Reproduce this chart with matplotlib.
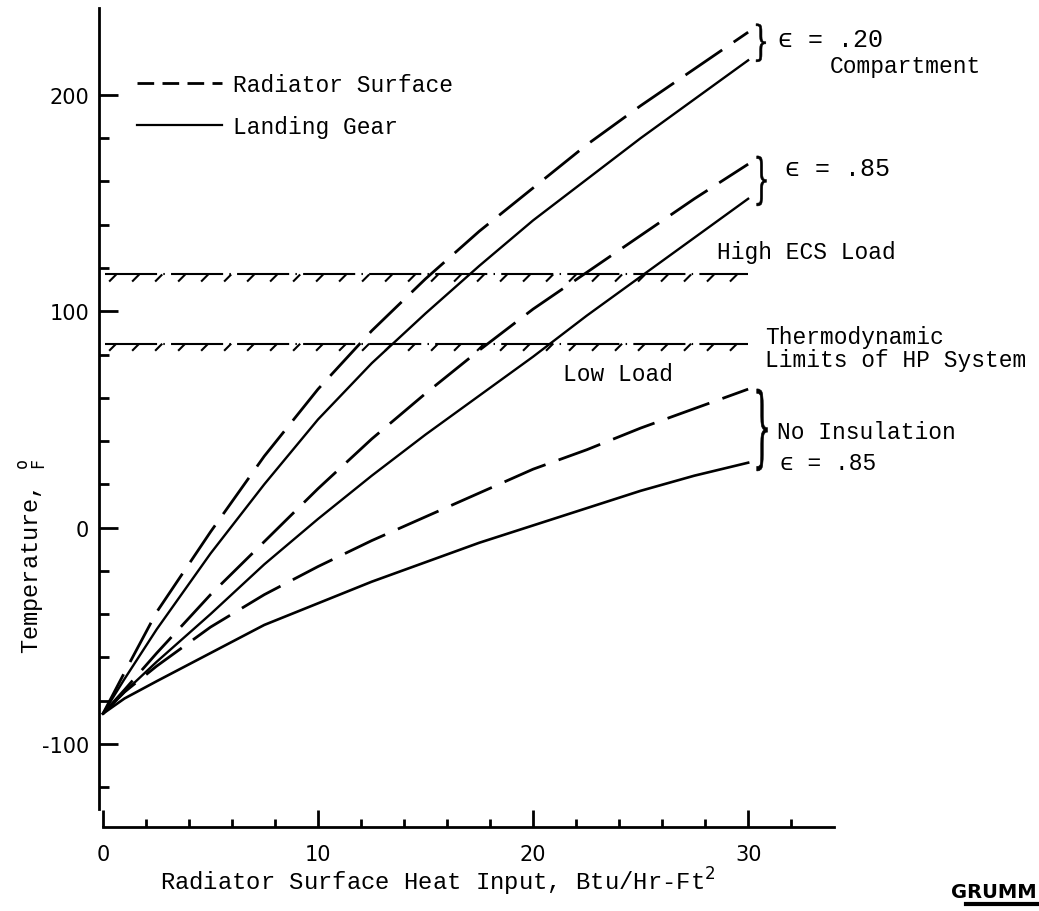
import numpy as np
import matplotlib
matplotlib.use("Agg")
import matplotlib.pyplot as plt
import matplotlib.patheffects as pe
from matplotlib.lines import Line2D
from matplotlib.textpath import TextPath
from matplotlib.patches import PathPatch
from matplotlib.font_manager import FontProperties
from matplotlib.transforms import Affine2D

plt.rcParams['axes.unicode_minus'] = False
MONO = ['Liberation Mono', 'DejaVu Sans Mono']

# heat input, Btu/Hr-Ft2
heat_input = [0, 1, 2.5, 5, 7.5, 10, 12.5, 15, 17.5, 20, 22.5, 25, 27.5, 30]

# temperatures (deg F)
rad_020 = [-86, -67, -39, -2, 33, 64, 91, 115, 137, 157, 177, 195, 212, 229]
gear_020 = [-86, -70, -47, -12, 20, 50, 76, 99, 121, 142, 161, 180, 198, 216]
rad_085 = [-86, -75, -58, -31, -6.5, 18, 41, 62, 82, 101, 118, 135, 152, 168]
gear_085 = [-86, -76, -62, -40, -17, 4, 24, 43, 61, 79, 98, 116, 134, 152]
rad_noins = [-86, -76, -64, -46, -31, -18, -6, 5, 16, 27, 36, 46, 55, 64]
gear_noins = [-86, -79, -71, -58, -45, -35, -25, -16, -7, 1, 9, 17, 24, 30]

# thermodynamic limits of HP system
limit_x = [0.1, 30]
high_ecs_load = 117
low_load = 85


def brace(ax, x0, ybot, ytop, width):
    # tall narrow curly brace made from a glyph outline
    tp = TextPath((0, 0), "}", size=1, prop=FontProperties(family='DejaVu Serif'))
    ext = tp.get_extents()
    tr = (Affine2D().translate(-ext.x0, -ext.y0)
          .scale(width / ext.width, (ytop - ybot) / ext.height)
          .translate(x0, ybot))
    ax.add_patch(PathPatch(tr.transform_path(tp), fc='k', ec='k', lw=0.4,
                           clip_on=False))


fig = plt.figure(figsize=(10.39, 9.12), dpi=100)
ax = fig.add_axes([0.0784, 0.0883, 0.7348, 0.9109])
ax.set_xlim(-1, 34.5)
ax.set_ylim(-140, 244)

dash = (16, 5)
ax.plot(heat_input, rad_020, color='k', lw=2, dashes=dash)
ax.plot(heat_input, gear_020, color='k', lw=1.7)
ax.plot(heat_input, rad_085, color='k', lw=2, dashes=dash)
ax.plot(heat_input, gear_085, color='k', lw=1.7)
ax.plot(heat_input, rad_noins, color='k', lw=2, dashes=dash)
ax.plot(heat_input, gear_noins, color='k', lw=1.9)

hatch = [pe.withTickedStroke(angle=-135, spacing=16, length=0.45)]
ax.plot(limit_x, [high_ecs_load] * 2, color='k', lw=1.5,
        ls=(0, (25, 3, 0.7, 3)), path_effects=hatch)
ax.plot(limit_x, [low_load] * 2, color='k', lw=1.5,
        ls=(0, (25, 3, 0.7, 3)), path_effects=hatch)

# spines
for s in ['top', 'right']:
    ax.spines[s].set_visible(False)
ax.spines['left'].set_position(('data', -0.2))
ax.spines['left'].set_bounds(-130, 240)
ax.spines['bottom'].set_position(('data', -138.5))
ax.spines['bottom'].set_bounds(0, 34)
ax.spines['left'].set_linewidth(2)
ax.spines['bottom'].set_linewidth(2)

ax.set_xticks([0, 10, 20, 30])
ax.set_xticks(np.arange(2, 34, 2), minor=True)
ax.set_yticks([-100, 0, 100, 200])
ax.set_yticks(np.arange(-120, 200, 20), minor=True)
ax.tick_params(axis='x', which='major', direction='in', length=12, width=2, pad=12)
ax.tick_params(axis='x', which='minor', direction='in', length=6, width=2)
ax.tick_params(axis='y', which='major', direction='in', length=14, width=2, pad=7)
ax.tick_params(axis='y', which='minor', direction='in', length=7, width=2)
for lab in ax.get_xticklabels() + ax.get_yticklabels():
    lab.set_fontsize(15)
    lab.set_family('DejaVu Sans')

# legend
h1 = Line2D([], [], color='k', lw=2, dashes=(6, 3))
h2 = Line2D([], [], color='k', lw=1.6)
ax.legend([h1, h2], ['Radiator Surface', 'Landing Gear'], loc='center left',
          bbox_to_anchor=(0.132, 0.883), bbox_transform=fig.transFigure,
          frameon=False, prop={'family': MONO, 'size': 16.5},
          handlelength=3.7, handletextpad=0.5, labelspacing=0.85,
          borderpad=0, borderaxespad=0)

# braces and annotations
brace(ax, 30.37, 215.3, 232.9, 0.45)
brace(ax, 30.40, 148.7, 171.8, 0.45)
brace(ax, 30.40, 26.2, 64.1, 0.5)

tkw = dict(family=MONO, fontsize=16.5, ha='left', va='center', clip_on=False)
ax.text(31.4, 226, "ϵ = .20", **dict(tkw, fontsize=18))
ax.text(33.8, 213.4, "Compartment", **tkw)
ax.text(31.7, 166, "ϵ = .85", **dict(tkw, fontsize=18))
ax.text(28.56, 127.4, "High ECS Load", **tkw)
ax.text(30.8, 88.5, "Thermodynamic", **tkw)
ax.text(30.8, 77.5, "Limits of HP System", **tkw)
ax.text(21.4, 71, "Low Load", **tkw)
ax.text(31.35, 44.2, "No Insulation", **tkw)
ax.text(31.5, 29.9, "ϵ = .85", **tkw)

fig.text(438 / 1039, 1 - 882 / 912, "Radiator Surface Heat Input, Btu/Hr-Ft$^2$",
         family=MONO, fontsize=17.2, ha='center', va='center')
fig.text(33 / 1039, 1 - 556 / 912, r"Temperature, $^{\mathtt{o}}_{\mathtt{F}}$",
         family=MONO, fontsize=17, ha='center', va='center', rotation=90)

# corner logo (only the visible part of the page)
fig.text(0.998, 0.021, "GRUMM", family='DejaVu Sans', fontsize=14,
         fontweight='bold', ha='right', va='center')
fig.add_artist(Line2D([0.93, 1.0], [0.008, 0.008], transform=fig.transFigure,
                      lw=3, color='k'))

fig.savefig("out.png", dpi=100, facecolor='white')
